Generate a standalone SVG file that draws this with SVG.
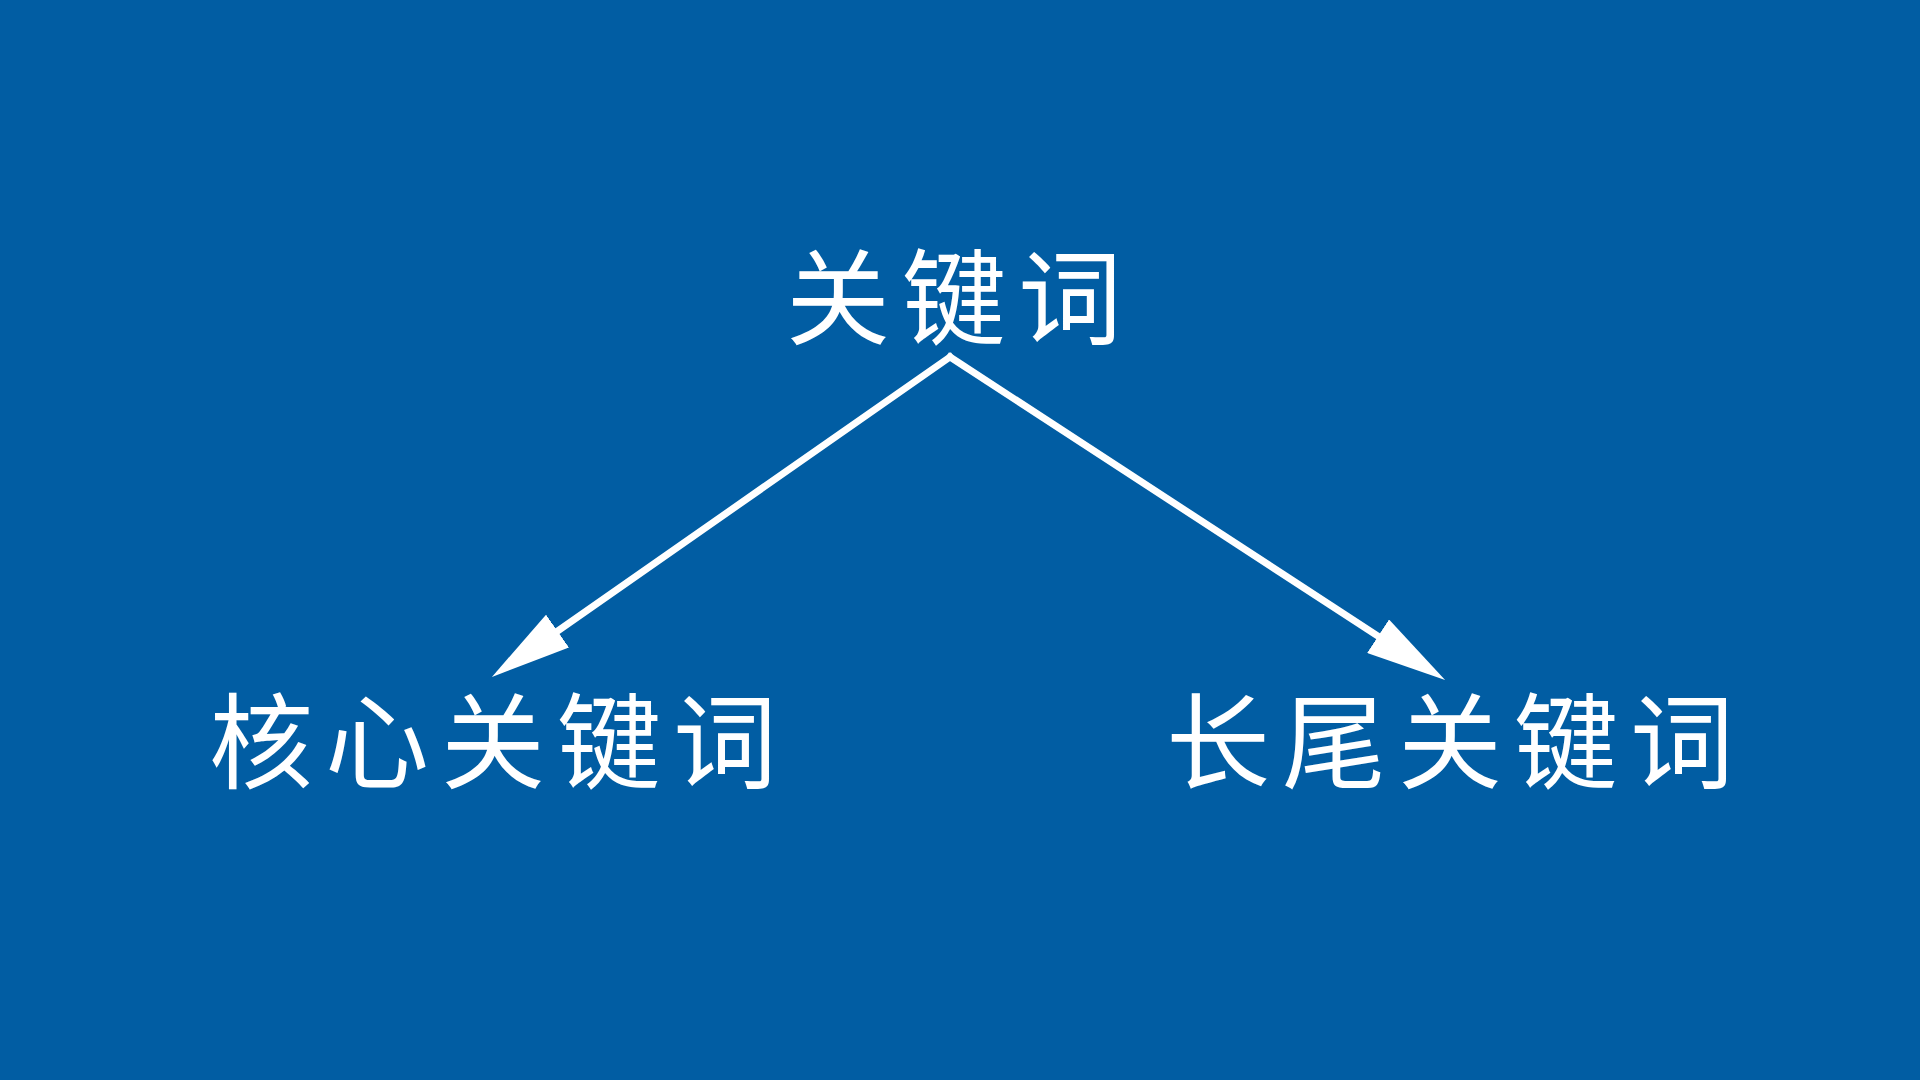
<svg xmlns="http://www.w3.org/2000/svg" width="1920" height="1080" viewBox="0 0 1920 1080">
  <defs>
    <style>
      .lbl { font-family: "Noto Sans CJK SC", "Noto Sans", sans-serif; fill: #ffffff; text-anchor: middle; font-size: 104px; letter-spacing: 12px; }
      .conn { stroke: #ffffff; stroke-width: 7; fill: none; stroke-linecap: square; }
    </style>
    <marker id="arrow" viewBox="0 0 80 40" refX="0" refY="20" markerWidth="80" markerHeight="40" markerUnits="userSpaceOnUse" orient="auto">
      <path d="M0,0 L80,20 L0,40 Z" fill="#ffffff"/>
    </marker>
  </defs>
  <rect x="0" y="0" width="1920" height="1080" fill="#015DA3"/>
  <g id="connectors">
    <path class="conn" d="M950,357 L557.5,631.1" marker-end="url(#arrow)"/>
    <path class="conn" d="M950,357 L1378.1,636.2" marker-end="url(#arrow)"/>
  </g>
  <g id="node-root">
    <text class="lbl" x="960" y="337">关键词</text>
  </g>
  <g id="node-core">
    <text class="lbl" x="499" y="781">核心关键词</text>
  </g>
  <g id="node-longtail">
    <text class="lbl" x="1456" y="781">长尾关键词</text>
  </g>
</svg>
